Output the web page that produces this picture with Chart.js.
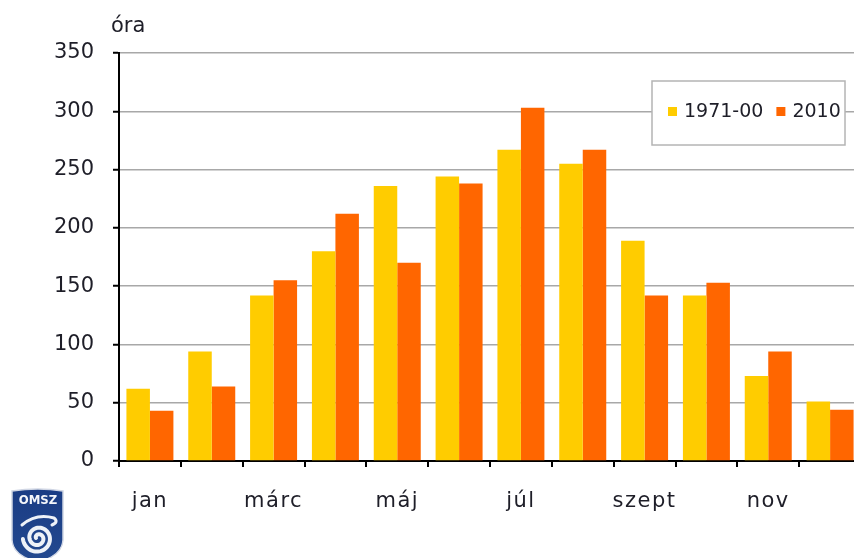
<!DOCTYPE html>
<html>
<head>
<meta charset="utf-8">
<script src="https://cdn.jsdelivr.net/npm/chart.js@4/dist/chart.umd.min.js"></script>
<style>
  html, body { margin: 0; padding: 0; background: #fff; overflow: hidden; width: 854px; height: 558px; }
  #wrap { position: absolute; left: 0; top: 0; width: 870px; height: 558px; }
</style>
</head>
<body>
<div id="wrap"><canvas id="c" width="870" height="558"></canvas></div>
<script>
// Monthly sunshine duration (hours)
const months = ['jan', 'febr', 'márc', 'ápr', 'máj', 'jún', 'júl', 'aug', 'szept', 'okt', 'nov', 'dec'];
const normal7100 = [62, 94, 142, 180, 236, 244, 267, 255, 189, 142, 73, 51];
const year2010 = [43, 64, 155, 212, 170, 238, 303, 267, 142, 153, 94, 44];
const seriesNames = ['1971-00', '2010'];
const seriesColors = ['#ffcc00', '#ff6600'];
const unitLabel = 'óra';
const yMin = 0, yMax = 350, yStep = 50;

const FONT = '"DejaVu Sans", Verdana, sans-serif';
const TEXT = '#1e1e28';

// Unit caption above the value axis
const unitPlugin = {
  id: 'unitCaption',
  afterDraw(chart) {
    const ctx = chart.ctx;
    ctx.save();
    ctx.font = '21px ' + FONT;
    ctx.fillStyle = TEXT;
    ctx.textAlign = 'left';
    ctx.textBaseline = 'alphabetic';
    ctx.fillText(unitLabel, 111, 32);
    ctx.restore();
  }
};

// Month labels are drawn slightly letter-spaced
const spacedMonthLabels = {
  id: 'spacedMonthLabels',
  beforeDraw(chart) {
    const sx = chart.scales.x;
    if (!sx || sx._spacedPatched) return;
    const orig = sx.drawLabels.bind(sx);
    sx.drawLabels = function (area) {
      const ctx = this.ctx;
      const prev = ctx.letterSpacing;
      ctx.letterSpacing = '1.5px';
      orig(area);
      ctx.letterSpacing = prev || '0px';
    };
    sx._spacedPatched = true;
  }
};

// Boxed legend drawn inside the plot area
const boxLegend = {
  id: 'boxLegend',
  afterDatasetsDraw(chart) {
    const ctx = chart.ctx;
    const x0 = 652, y0 = 81, w = 193, h = 64;
    ctx.save();
    ctx.fillStyle = '#fff';
    ctx.fillRect(x0, y0, w, h);
    ctx.strokeStyle = '#b4b4b4';
    ctx.lineWidth = 1.5;
    ctx.strokeRect(x0, y0, w, h);
    ctx.font = '19px ' + FONT;
    ctx.textBaseline = 'middle';
    ctx.textAlign = 'left';
    let x = 668;
    const cy = 112;
    chart.data.datasets.forEach((ds) => {
      ctx.fillStyle = ds.backgroundColor;
      ctx.fillRect(x, cy - 5, 9, 9);
      x += 16;
      ctx.fillStyle = TEXT;
      ctx.fillText(ds.label, x, cy);
      x += ctx.measureText(ds.label).width + 13;
    });
    ctx.restore();
  }
};

// OMSZ emblem in the lower left corner
const emblem = {
  id: 'emblem',
  afterDraw(chart) {
    const ctx = chart.ctx;
    ctx.save();
    ctx.translate(12, 488);
    ctx.beginPath();
    ctx.moveTo(0, 3);
    ctx.quadraticCurveTo(26, -1, 51, 3);
    ctx.lineTo(51, 52);
    ctx.quadraticCurveTo(50, 68, 26, 74);
    ctx.quadraticCurveTo(1, 68, 0, 52);
    ctx.closePath();
    const g = ctx.createLinearGradient(0, 0, 0, 70);
    g.addColorStop(0, '#1a3c84');
    g.addColorStop(1, '#23498f');
    ctx.fillStyle = g;
    ctx.fill();
    ctx.strokeStyle = '#d0d6e4';
    ctx.lineWidth = 1.5;
    ctx.stroke();
    ctx.fillStyle = '#f4f6fb';
    ctx.font = 'bold 13px "DejaVu Sans Condensed", ' + FONT;
    ctx.textAlign = 'center';
    ctx.textBaseline = 'middle';
    ctx.fillText('OMSZ', 26, 13);
    // wave crest
    ctx.strokeStyle = '#eef2f8';
    ctx.lineCap = 'round';
    ctx.lineWidth = 3;
    ctx.beginPath();
    ctx.moveTo(10, 37);
    ctx.quadraticCurveTo(24, 25, 42, 30);
    ctx.quadraticCurveTo(47, 34, 40, 37);
    ctx.stroke();
    // spiral
    ctx.lineWidth = 4;
    ctx.beginPath();
    const cx = 26, cy = 50;
    for (let t = 0; t <= 4.0 * Math.PI; t += 0.1) {
      const r = 2 + t * 1.05;
      const px = cx + r * Math.cos(t + Math.PI);
      const py = cy + r * Math.sin(t + Math.PI);
      if (t === 0) ctx.moveTo(px, py); else ctx.lineTo(px, py);
    }
    ctx.stroke();
    ctx.restore();
  }
};

new Chart(document.getElementById('c'), {
  type: 'bar',
  data: {
    labels: months,
    datasets: [
      { label: seriesNames[0], data: normal7100, backgroundColor: seriesColors[0], borderWidth: 0 },
      { label: seriesNames[1], data: year2010, backgroundColor: seriesColors[1], borderWidth: 0 }
    ]
  },
  options: {
    responsive: false,
    animation: false,
    devicePixelRatio: 1,
    layout: { padding: { left: 0, top: 53, right: 9, bottom: 0 } },
    datasets: { bar: { categoryPercentage: 0.76, barPercentage: 1.0 } },
    plugins: { legend: { display: false }, tooltip: { enabled: false } },
    scales: {
      x: {
        offset: true,
        grid: { display: true, drawOnChartArea: false, drawTicks: true, tickLength: 6, color: '#000', lineWidth: 2, offset: true },
        border: { display: true, color: '#000', width: 2 },
        ticks: {
          autoSkip: false, maxRotation: 0, minRotation: 0, padding: 22,
          font: { family: FONT, size: 21 }, color: TEXT,
          callback: (v, i) => (i % 2 === 0 ? months[i] : '')
        },
        afterFit(scale) { scale.height = 97; }
      },
      y: {
        min: yMin, max: yMax,
        grid: { color: '#a8a8a8', lineWidth: 1.5, tickLength: 6, tickColor: '#000', tickWidth: 2 },
        border: { display: true, color: '#000', width: 2 },
        ticks: { stepSize: yStep, padding: 19, font: { family: FONT, size: 21 }, color: TEXT },
        afterFit(scale) { scale.width = 119; }
      }
    }
  },
  plugins: [spacedMonthLabels, unitPlugin, boxLegend, emblem]
});
</script>
</body>
</html>
